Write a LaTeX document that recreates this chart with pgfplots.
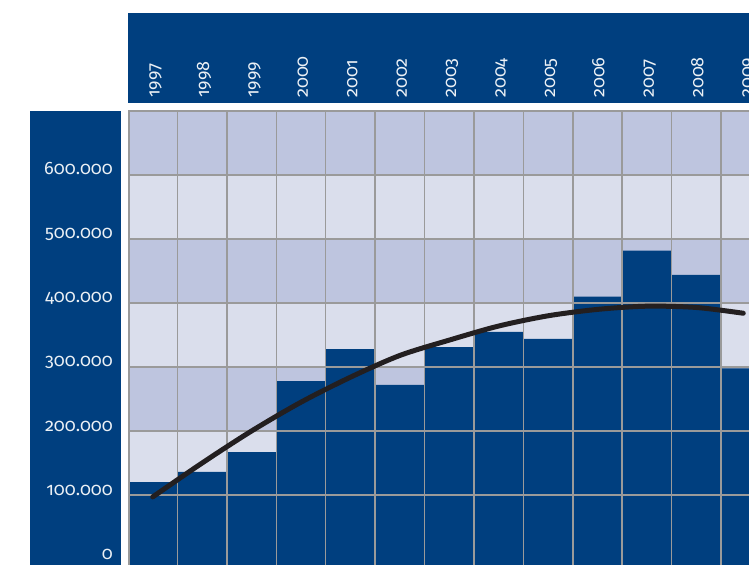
\documentclass[border=0pt]{standalone}
\usepackage{fontspec}
\setmainfont{Fira Sans}[Numbers=OldStyle]
\usepackage{pgfplots}
\pgfplotsset{compat=1.18}

\definecolor{navy}{HTML}{003F7F}
\definecolor{bandA}{HTML}{BEC5DF}
\definecolor{bandB}{HTML}{DADEEC}
\definecolor{gridc}{HTML}{9A9A9A}
\definecolor{trend}{HTML}{231F20}

\begin{document}
\begin{tikzpicture}[x=1pt,y=1pt]
\clip (0,0) rectangle (749,565);
\path (0,0) rectangle (749,565);
% dark panels behind the labels
\fill[navy] (30,0) rectangle (121,454);
\fill[navy] (128,462) rectangle (749,552);

\begin{axis}[
  at={(128pt,0pt)}, anchor=south west,
  scale only axis, width=621pt, height=454pt,
  xmin=-0.5, xmax=12.066,
  ymin=-9375, ymax=700000,
  scaled y ticks=false, scaled x ticks=false,
  axis line style={draw=none},
  major tick length=0pt,
  xtick={0,...,12},
  xticklabels={1997,1998,1999,2000,2001,2002,2003,2004,2005,2006,2007,2008,2009},
  xticklabel pos=right,
  xticklabel shift=13pt,
  xticklabel style={font=\fontsize{18}{18}\selectfont, text=white!92!navy, inner sep=0pt,
    xshift=7pt, rotate=90, anchor=base west},
  ytick={0,100000,200000,300000,400000,500000,600000},
  yticklabels={0,100.000,200.000,300.000,400.000,500.000,600.000},
  yticklabel shift=15pt,
  yticklabel style={font=\fontsize{18}{18}\selectfont, text=white!92!navy, inner sep=0pt,
    anchor=base east},
]
% alternating background bands
\fill[navy]  (axis cs:-0.5,-9375)  rectangle (axis cs:12.1,100000);
\fill[bandB] (axis cs:-0.5,100000) rectangle (axis cs:12.1,200000);
\fill[bandA] (axis cs:-0.5,200000) rectangle (axis cs:12.1,300000);
\fill[bandB] (axis cs:-0.5,300000) rectangle (axis cs:12.1,400000);
\fill[bandA] (axis cs:-0.5,400000) rectangle (axis cs:12.1,500000);
\fill[bandB] (axis cs:-0.5,500000) rectangle (axis cs:12.1,600000);
\fill[bandA] (axis cs:-0.5,600000) rectangle (axis cs:12.1,700000);

\addplot[ybar, bar width=1, fill=navy, draw=none] coordinates {
  (0,120000) (1,136000) (2,167000) (3,278000) (4,328000) (5,272000)
  (6,331000) (7,355000) (8,344000) (9,410000) (10,482000) (11,444000)
  (12,298000)
};

% grid over the bars
\foreach \k in {0.5,1.5,...,11.5}
  \edef\tmp{\noexpand\draw[gridc, line width=1.5pt] (axis cs:\k,-9375) -- (axis cs:\k,700000);}\tmp
\draw[gridc, line width=3pt] (axis cs:-0.5,-9375) -- (axis cs:-0.5,700000);
\foreach \v in {100000,200000,300000,400000,500000,600000}
  \edef\tmp{\noexpand\draw[gridc, line width=1.5pt] (axis cs:-0.5,\v) -- (axis cs:12.1,\v);}\tmp
\draw[gridc, line width=3pt] (axis cs:-0.5,700000) -- (axis cs:12.1,700000);

% trend curve
\addplot[smooth, trend, line width=5pt, line cap=round] coordinates {
  (0,97000) (1,150000) (2,200000) (3,245000) (4,284000) (5,318000)
  (6,342000) (7,364000) (8,380000) (9,390000) (10,395000) (11,393000)
  (11.95,384000)
};
\end{axis}
\end{tikzpicture}
\end{document}
